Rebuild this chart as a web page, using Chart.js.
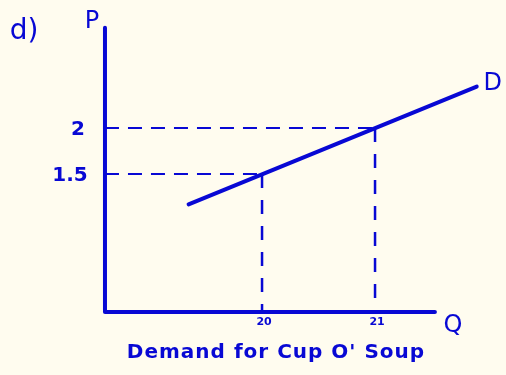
<!DOCTYPE html>
<html>
<head>
<meta charset="utf-8">
<script src="https://cdn.jsdelivr.net/npm/chart.js@4/dist/chart.umd.min.js"></script>
<style>
  html, body { margin: 0; padding: 0; background: #fffcef; }
  #wrap { width: 506px; height: 375px; }
</style>
</head>
<body>
<div id="wrap"><canvas id="c"></canvas></div>
<script>
// Demand curve for Cup O' Soup
const demandQ = [19.35, 21.9];
const demandP = [1.17, 2.45];

// Marked price / quantity pairs
const markQ = [20, 21];
const markP = [1.5, 2];
const priceLabels = ['1.5', '2'];
const quantityLabels = ['20', '21'];

// Axis extents
const axisQ = [18.61, 21.53];
const axisP = [0, 3.09];

const ink = '#0808d4';

const datasets = [];
// axes
datasets.push({ data: [{x: axisQ[0], y: axisP[1]}, {x: axisQ[0], y: axisP[0]}, {x: axisQ[1], y: axisP[0]}],
  borderColor: ink, borderWidth: 4, showLine: true, pointRadius: 0, borderCapStyle: 'round', borderJoinStyle: 'round' });
// demand line
datasets.push({ data: demandQ.map((q, i) => ({x: q, y: demandP[i]})),
  borderColor: ink, borderWidth: 4, showLine: true, pointRadius: 0, borderCapStyle: 'round' });
// dashed guides
markQ.forEach((q, i) => {
  datasets.push({ data: [{x: axisQ[0], y: markP[i]}, {x: q, y: markP[i]}],
    borderColor: ink, borderWidth: 2, borderDash: [14, 9], showLine: true, pointRadius: 0 });
  datasets.push({ data: [{x: q, y: markP[i]}, {x: q, y: axisP[0]}],
    borderColor: ink, borderWidth: 2.5, borderDash: [14, 12], showLine: true, pointRadius: 0 });
});

const textPlugin = {
  id: 'handText',
  afterDraw(chart) {
    const ctx = chart.ctx;
    const xs = chart.scales.x, ys = chart.scales.y;
    ctx.save();
    ctx.fillStyle = ink;
    ctx.textAlign = 'center';
    ctx.textBaseline = 'middle';
    const x0 = xs.getPixelForValue(axisQ[0]);
    const y0 = ys.getPixelForValue(axisP[0]);
    ctx.font = 'bold 20px "DejaVu Sans"';
    priceLabels.forEach((t, i) => {
      ctx.fillText(t, x0 - (t.length > 1 ? 35 : 27), ys.getPixelForValue(markP[i]) + 2);
    });
    ctx.font = 'bold 11px "DejaVu Sans"';
    quantityLabels.forEach((t, i) => {
      ctx.fillText(t, xs.getPixelForValue(markQ[i]) + 2, y0 + 10);
    });
    ctx.font = '24px "DejaVu Sans"';
    ctx.fillText('P', x0 - 13, 22);
    ctx.fillText('Q', xs.getPixelForValue(axisQ[1]) + 18, y0 + 14);
    ctx.fillText('D', xs.getPixelForValue(demandQ[1]) + 16, ys.getPixelForValue(demandP[1]) - 3);
    ctx.font = '28px "DejaVu Sans"';
    ctx.fillText('d)', 24, 32);
    ctx.font = 'bold 20px "DejaVu Sans"';
    ctx.letterSpacing = '1px';
    ctx.fillText("Demand for Cup O' Soup", 276, 353);
    ctx.restore();
  }
};

new Chart(document.getElementById('c'), {
  type: 'scatter',
  data: { datasets },
  options: {
    responsive: true,
    maintainAspectRatio: false,
    animation: false,
    layout: { padding: 0 },
    plugins: { legend: { display: false }, tooltip: { enabled: false } },
    scales: {
      x: { type: 'linear', display: false, min: 17.681, max: 22.159 },
      y: { type: 'linear', display: false, min: -0.685, max: 3.391 }
    }
  },
  plugins: [textPlugin]
});
</script>
</body>
</html>
